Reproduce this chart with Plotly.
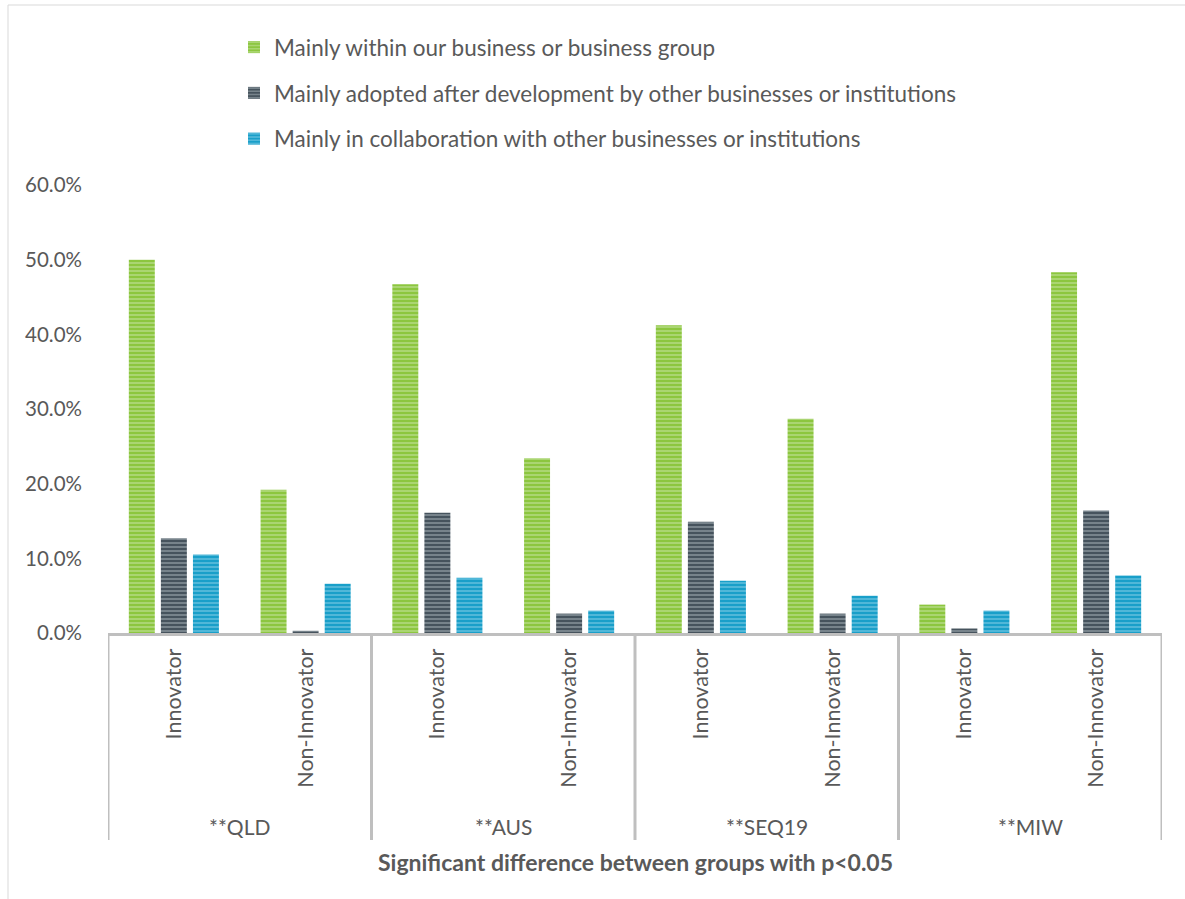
import plotly.graph_objects as go

# Regions (outer level) and respondent types (inner level)
regions = ["**QLD", "**AUS", "**SEQ19", "**MIW"]
groups = ["Innovator", "Non-Innovator"]

# Share of businesses (%) by where innovation was mainly developed
within_business = [50.0, 19.2, 46.7, 23.4, 41.2, 28.7, 3.8, 48.3]
adopted_external = [12.7, 0.3, 16.1, 2.6, 14.9, 2.6, 0.6, 16.4]
in_collaboration = [10.5, 6.6, 7.4, 3.0, 7.0, 5.0, 3.0, 7.7]

series_names = [
    "Mainly within our business or business group",
    "Mainly adopted after development by other businesses or institutions",
    "Mainly in collaboration with other businesses or institutions",
]
y_ticks = [0, 10, 20, 30, 40, 50, 60]
y_tick_labels = ["0.0%", "10.0%", "20.0%", "30.0%", "40.0%", "50.0%", "60.0%"]
axis_title = "Significant difference between groups with p<0.05"

# category keys (unique) and their displayed inner labels
keys = [f"{r}|{g}" for r in regions for g in groups]
inner_labels = [g for r in regions for g in groups]

styles = [
    ("#8cc63f", "#cfe8b0"),
    ("#46535d", "#b3bcc3"),
    ("#199fc9", "#93d6ec"),
]

FONT = "Lato"
TXT = "#595959"
GRID = "#bfbfbf"

fig = go.Figure()
for i, (name, vals) in enumerate(zip(series_names, [within_business, adopted_external, in_collaboration])):
    base, light = styles[i]
    fig.add_trace(go.Bar(
        x=keys, y=vals, name=name, legendgroup=f"g{i}",
        marker=dict(
            color=base,
            line=dict(width=0),
            pattern=dict(shape="-", fgcolor=light, bgcolor=base, size=4, solidity=0.45),
        ),
    ))

W, H = 1185, 899
L, R, T, B = 108, 23, 185, 266
plot_w = W - L - R
plot_h = H - T - B

def py(pix):
    return (H - B - pix) / plot_h

def px(pix):
    return (pix - L) / plot_w

shapes = []
# outer chart border
shapes.append(dict(type="rect", xref="paper", yref="paper",
                   x0=px(8), x1=px(1195), y0=py(910), y1=py(5),
                   line=dict(color="#d9d9d9", width=1), layer="below"))
# vertical dividers of the grouped category axis
for xb in [-0.5, 1.5, 3.5, 5.5, 7.5]:
    shapes.append(dict(type="line", xref="x", yref="paper",
                       x0=xb, x1=xb, y0=0, y1=py(840),
                       line=dict(color=GRID, width=3)))

annotations = []
for k, r in enumerate(regions):
    annotations.append(dict(x=2 * k + 0.5, y=py(826), xref="x", yref="paper",
                            text=r, showarrow=False,
                            font=dict(family=FONT, size=21, color=TXT),
                            xanchor="center", yanchor="middle"))
annotations.append(dict(x=0.5, y=py(862), xref="paper", yref="paper",
                        text=f"<b>{axis_title}</b>", showarrow=False,
                        font=dict(family=FONT, size=23, color=TXT),
                        xanchor="center", yanchor="middle"))

fig.update_layout(
    width=W, height=H,
    margin=dict(l=L, r=R, t=T, b=B, autoexpand=False),
    paper_bgcolor="white", plot_bgcolor="white",
    font=dict(family=FONT, size=20, color=TXT),
    barmode="group", bargap=0.27, bargroupgap=0.19,
    showlegend=True,
    legend=dict(
        x=px(234), y=py(26), xanchor="left", yanchor="top",
        font=dict(family=FONT, size=22.5, color=TXT),
        tracegroupgap=13.5, itemwidth=30, bgcolor="rgba(0,0,0,0)",
    ),
    xaxis=dict(
        type="category", categoryorder="array", categoryarray=keys,
        tickvals=keys, ticktext=inner_labels, tickangle=-90,
        showline=True, linecolor=GRID, linewidth=3,
        showgrid=False, ticks="", ticklabelstandoff=4,
        tickfont=dict(family=FONT, size=21.5, color=TXT),
        range=[-0.5, 7.5], fixedrange=True,
    ),
    yaxis=dict(
        range=[0, 60], tickvals=y_ticks, ticktext=y_tick_labels,
        showgrid=False, zeroline=False, showline=False, ticks="",
        ticklabelstandoff=25,
        tickfont=dict(family=FONT, size=20.5, color=TXT),
    ),
    shapes=shapes, annotations=annotations,
)

fig.write_html("out.html")
